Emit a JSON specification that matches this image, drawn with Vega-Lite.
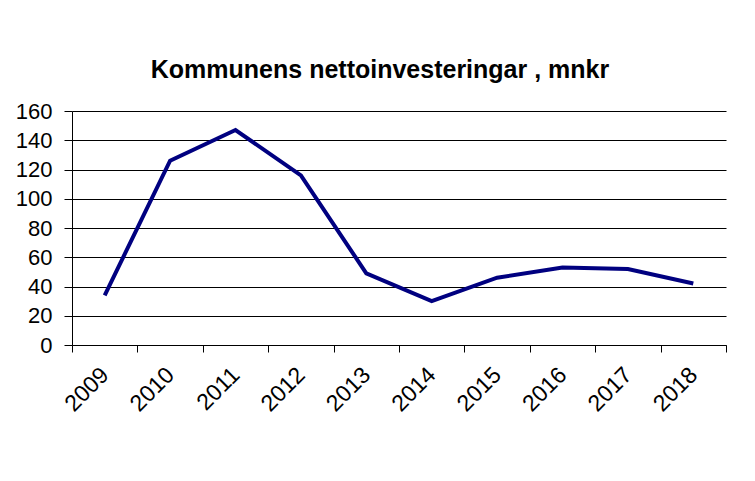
{
  "$schema": "https://vega.github.io/schema/vega-lite/v6.json",
  "autosize": "none",
  "width": 654,
  "height": 234,
  "padding": {"left": 72, "top": 111, "right": 29, "bottom": 136},
  "background": "white",
  "title": {
    "text": "Kommunens nettoinvesteringar , mnkr",
    "font": "Liberation Sans",
    "fontSize": 25,
    "fontWeight": "bold",
    "color": "black",
    "anchor": "middle",
    "dx": -19,
    "offset": 17
  },
  "data": {
    "values": [
      {"year": "2009", "value": 34},
      {"year": "2010", "value": 126},
      {"year": "2011", "value": 147},
      {"year": "2012", "value": 116},
      {"year": "2013", "value": 49},
      {"year": "2014", "value": 30},
      {"year": "2015", "value": 46},
      {"year": "2016", "value": 53},
      {"year": "2017", "value": 52},
      {"year": "2018", "value": 42}
    ]
  },
  "mark": {"type": "line", "color": "#000080", "strokeWidth": 4, "strokeJoin": "miter", "strokeCap": "butt"},
  "encoding": {
    "x": {
      "field": "year",
      "type": "ordinal",
      "bandPosition": 0.5,
      "scale": {"type": "band", "paddingInner": 0, "paddingOuter": 0},
      "axis": {
        "title": null,
        "labelAngle": -45,
        "labelAlign": "right",
        "labelBaseline": "middle",
        "labelFont": "Liberation Sans",
        "labelFontSize": 23,
        "labelColor": "black",
        "labelPadding": 19,
        "tickBand": "extent",
        "tickSize": 7,
        "tickColor": "black",
        "domainColor": "black",
        "grid": false
      }
    },
    "y": {
      "field": "value",
      "type": "quantitative",
      "scale": {"domain": [0, 160], "nice": false},
      "axis": {
        "title": null,
        "values": [0, 20, 40, 60, 80, 100, 120, 140, 160],
        "labelFont": "Liberation Sans",
        "labelFontSize": 22,
        "labelColor": "black",
        "labelPadding": 12,
        "tickSize": 8,
        "tickColor": "black",
        "domainColor": "black",
        "grid": true,
        "gridColor": "black",
        "gridOpacity": 1
      }
    }
  },
  "config": {"view": {"stroke": null}}
}
